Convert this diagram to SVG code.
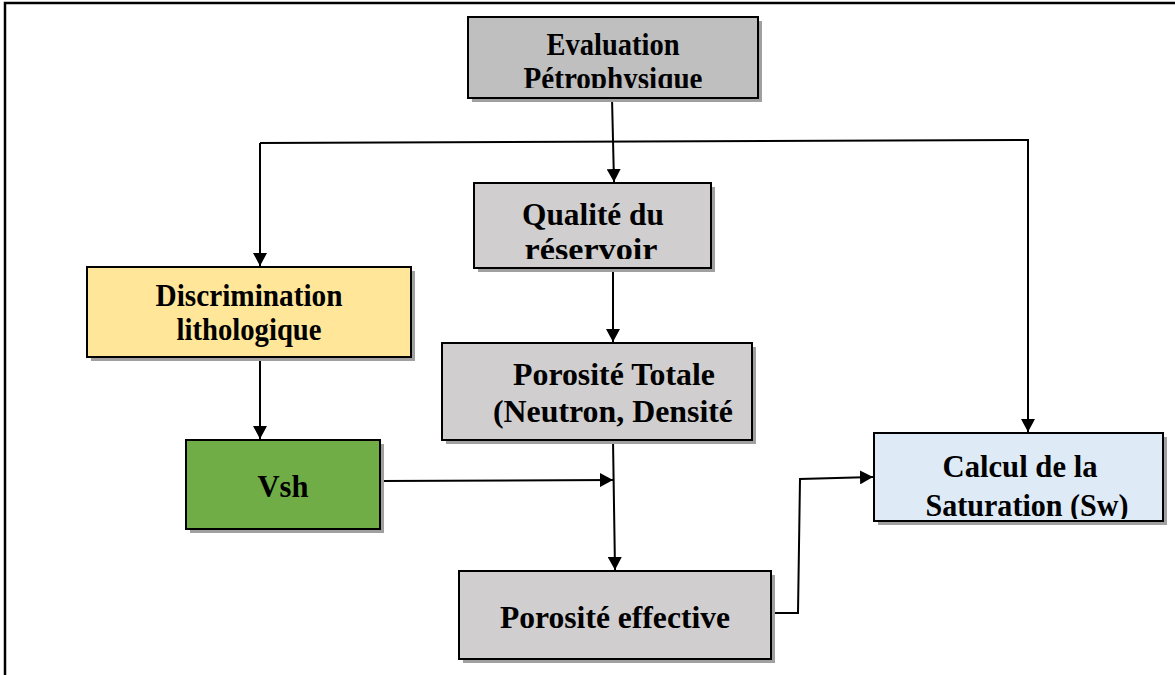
<svg xmlns="http://www.w3.org/2000/svg" width="1175" height="675" viewBox="0 0 1175 675">
<style>
  .box { stroke: #000; stroke-width: 2; }
  .shadow { fill: #a0a0a0; }
  .t { font-family: "Liberation Serif", "Times New Roman", serif; font-weight: bold; font-size: 32px; fill: #000; text-anchor: middle; }
  .conn { fill: none; stroke: #000; stroke-width: 2; }
</style>
<defs>
  <marker id="ah" markerWidth="14" markerHeight="14" refX="13" refY="7" orient="auto" markerUnits="userSpaceOnUse">
    <path d="M0,0 L13,7 L0,14 z" fill="#000"/>
  </marker>
  <clipPath id="clipEval"><rect x="468" y="17" width="290" height="71"/></clipPath>
  <clipPath id="clipQual"><rect x="474" y="183" width="237" height="76"/></clipPath>
  <clipPath id="clipCalc"><rect x="874" y="433" width="289" height="86"/></clipPath>
</defs>
<rect width="1175" height="675" fill="#fff"/>
<!-- frame -->
<path d="M5,675 L5,3 L1175,3" fill="none" stroke="#000" stroke-width="2.5"/>

<g id="connectors">
  <line class="conn" x1="612" y1="98" x2="614" y2="182" marker-end="url(#ah)"/>
  <polyline class="conn" points="260,143 1028,140 1028,432" marker-end="url(#ah)"/>
  <line class="conn" x1="260" y1="143" x2="260" y2="266" marker-end="url(#ah)"/>
  <line class="conn" x1="613" y1="268" x2="613" y2="342" marker-end="url(#ah)"/>
  <line class="conn" x1="260" y1="357" x2="260" y2="439" marker-end="url(#ah)"/>
  <line class="conn" x1="613" y1="440" x2="615" y2="570" marker-end="url(#ah)"/>
  <line class="conn" x1="380" y1="481" x2="613" y2="480" marker-end="url(#ah)"/>
  <polyline class="conn" points="771,613 798,613 800,479 873,477" marker-end="url(#ah)"/>
</g>

<g id="evaluation">
  <rect class="shadow" x="472" y="21" width="290" height="81"/>
  <rect class="box" x="468" y="17" width="290" height="81" fill="#bfbfbf"/>
  <g clip-path="url(#clipEval)">
    <text class="t" x="613" y="55" font-size="29" textLength="133" lengthAdjust="spacingAndGlyphs">Evaluation</text>
    <text class="t" x="613" y="89" font-size="29" textLength="179" lengthAdjust="spacingAndGlyphs">Pétrophysique</text>
  </g>
</g>

<g id="qualite">
  <rect class="shadow" x="478" y="187" width="237" height="85"/>
  <rect class="box" x="474" y="183" width="237" height="85" fill="#d0cece"/>
  <g clip-path="url(#clipQual)">
    <text class="t" x="593" y="225" textLength="142" lengthAdjust="spacingAndGlyphs">Qualité du</text>
    <text class="t" x="591" y="260" textLength="133" lengthAdjust="spacingAndGlyphs">réservoir</text>
  </g>
</g>

<g id="discrimination">
  <rect class="shadow" x="91" y="271" width="324" height="90"/>
  <rect class="box" x="87" y="267" width="324" height="90" fill="#ffe699"/>
  <text class="t" x="249" y="306" font-size="30" textLength="187" lengthAdjust="spacingAndGlyphs">Discrimination</text>
  <text class="t" x="249" y="340" font-size="30" textLength="145" lengthAdjust="spacingAndGlyphs">lithologique</text>
</g>

<g id="porosite-totale">
  <rect class="shadow" x="446" y="347" width="310" height="97"/>
  <rect class="box" x="442" y="343" width="310" height="97" fill="#d0cece"/>
  <text class="t" x="614" y="385" textLength="202" lengthAdjust="spacingAndGlyphs">Porosité Totale</text>
  <text class="t" x="613" y="422" textLength="240" lengthAdjust="spacingAndGlyphs">(Neutron, Densité</text>
</g>

<g id="vsh">
  <rect class="shadow" x="190" y="444" width="194" height="89"/>
  <rect class="box" x="186" y="440" width="194" height="89" fill="#70ad47"/>
  <text class="t" x="283" y="497" font-size="33" textLength="51" lengthAdjust="spacingAndGlyphs">Vsh</text>
</g>

<g id="calcul">
  <rect class="shadow" x="878" y="437" width="289" height="88"/>
  <rect class="box" x="874" y="433" width="289" height="88" fill="#deebf7"/>
  <g clip-path="url(#clipCalc)">
    <text class="t" x="1020" y="477" textLength="155" lengthAdjust="spacingAndGlyphs">Calcul de la</text>
    <text class="t" x="1027" y="516" textLength="203" lengthAdjust="spacingAndGlyphs">Saturation (Sw)</text>
  </g>
</g>

<g id="porosite-effective">
  <rect class="shadow" x="463" y="575" width="312" height="88"/>
  <rect class="box" x="459" y="571" width="312" height="88" fill="#d0cece"/>
  <text class="t" x="615" y="628" textLength="230" lengthAdjust="spacingAndGlyphs">Porosité effective</text>
</g>
</svg>
